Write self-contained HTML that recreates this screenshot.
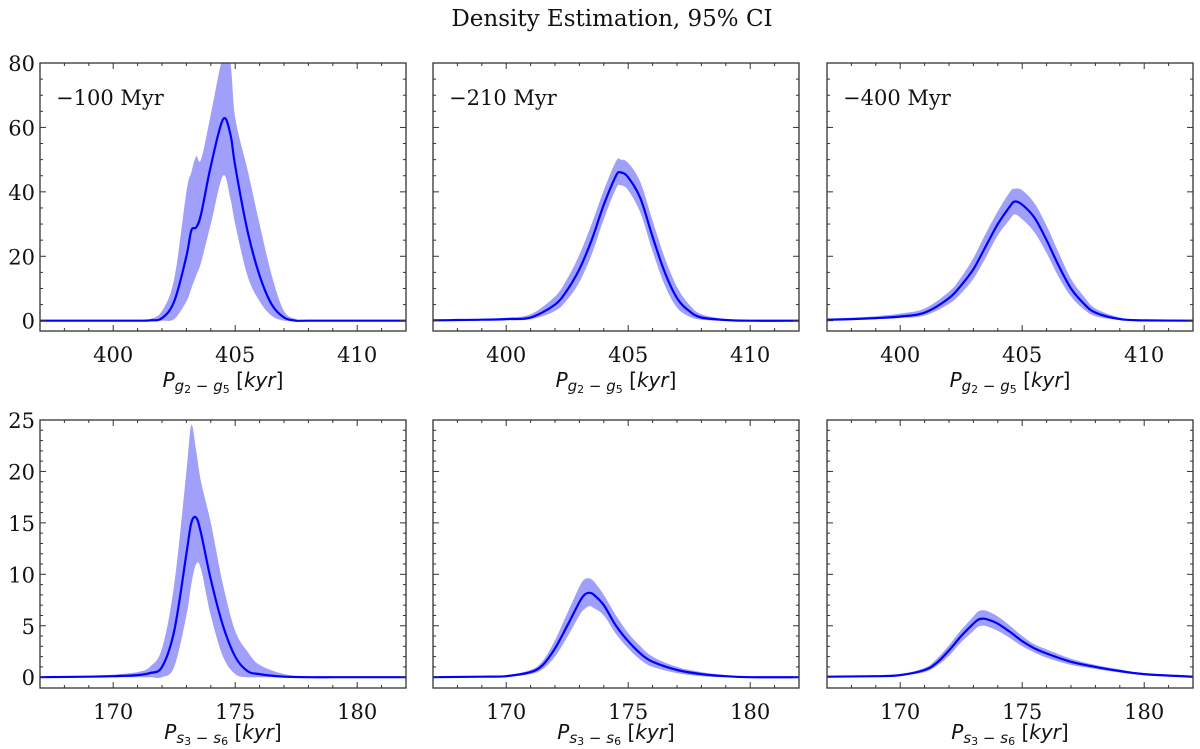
<!DOCTYPE html>
<html><head><meta charset="utf-8"><style>
html,body{margin:0;padding:0;background:#fff;}
svg{display:block;}
.tk{font-family:"DejaVu Serif","Liberation Serif",serif;font-size:21px;fill:#111;}
.xl{font-family:"DejaVu Sans","Liberation Sans",sans-serif;font-size:20px;fill:#111;}
</style></head><body>
<svg id="fig" width="1200" height="749" viewBox="0 0 1200 749" xmlns="http://www.w3.org/2000/svg">
<text x="612" y="26" text-anchor="middle" class="tk" style="font-size:23px">Density Estimation, 95% CI</text>
</svg>
<script>
// ---- data ----
const gridTop = [397,400,401,401.5,402,402.5,403,403.2,403.4,403.6,404,404.5,404.8,405,405.5,406,406.5,407,407.5,408,412];
const p1Mean = [0,0,0,0.1,0.8,6,20,28,29,33,48,62.5,58,48,28,14,5,1,0,0,0];
const p1High = [0,0,0.1,0.5,3,13,40,46,51,50,64,82,80,63,47,30,14,3,0.5,0,0];
const p1Low  = [0,0,0,0,0,0.5,6,10,14,18,30,45,38,30,14,6,1.5,0,0,0,0];

const gridTop2 = [397,398,399,400,401,402,402.5,403,403.5,404,404.5,404.7,405,405.5,406,406.5,407,407.5,408,409,410,412];
const p2Mean = [0.1,0.2,0.3,0.5,1,5,9.5,16,25,36,45,46,44.5,38,26,15,7,3,1,0.2,0,0];
const p2High = [0.2,0.3,0.5,0.9,2,7.5,13,20.5,30,40.5,49.5,50,49,43,31,19.5,10.5,5,2,0.5,0.1,0];
const p2Low  = [0,0.1,0.1,0.2,0.4,3,6.5,12,20.5,31.5,41,42,40.5,33.5,21.5,11,4,1.3,0.3,0,0,0];
const p3Mean = [0.3,0.5,0.8,1.3,2.5,7,11,16,23,30,35.5,37,36,32,25,17,10,5.5,2.5,0.5,0.1,0];
const p3High = [0.6,0.9,1.4,2.2,3.8,9,13.5,19.5,27,34,40,41,40.5,36.5,29.5,21,13,7.8,3.8,1,0.2,0];
const p3Low  = [0.1,0.3,0.5,0.8,1.6,5.2,8.5,13,19.5,26.5,31.5,33,31.5,27.5,21,13.5,7.5,3.7,1.4,0.2,0,0];

const gridBot = [167,169,170,171,171.5,172,172.5,173,173.2,173.4,173.6,174,174.5,175,175.5,176,177,178,179,180,182];
const p4Mean = [0,0.05,0.1,0.2,0.4,1,4.5,12,15,15.5,14,9.5,5,2,0.6,0.3,0.05,0,0,0,0];
const p4High = [0.1,0.15,0.25,0.5,1,2.8,9,20,24.5,22,19,15,9,4.5,2.5,1.2,0.3,0.1,0,0,0];
const p4Low  = [0,0,0,0,0,0,1,6,9,11,10.5,6,2,0.3,0,0,0,0,0,0,0];
const p5Mean = [0,0.05,0.1,0.5,1.2,2.8,5,7.3,8,8.2,8,7,5,3.5,2.3,1.5,0.7,0.3,0.1,0,0];
const p5High = [0.05,0.1,0.2,0.7,1.6,3.6,6.2,8.8,9.5,9.6,9.3,8,6,4.3,3,2,1,0.5,0.2,0.05,0];
const p5Low  = [0,0,0.05,0.3,0.8,2,3.9,6,6.6,6.9,6.7,6,4.2,2.8,1.7,1,0.4,0.1,0,0,0];
const p6Mean = [0.05,0.1,0.2,0.7,1.4,2.6,4,5.2,5.6,5.7,5.6,5.2,4.4,3.5,2.8,2.3,1.5,1,0.6,0.3,0.05];
const p6High = [0.1,0.15,0.3,0.9,1.8,3.1,4.6,5.9,6.4,6.5,6.4,5.9,5,4,3.2,2.7,1.8,1.2,0.75,0.4,0.1];
const p6Low  = [0,0.05,0.15,0.5,1.1,2.1,3.4,4.5,4.9,5,4.9,4.5,3.8,3,2.4,1.9,1.2,0.8,0.45,0.2,0];

const topXTicks = [400,405,410];
const topYTicks = [0,20,40,60,80];
const botXTicks = [170,175,180];
const botYTicks = [0,5,10,15,20,25];
const labels = ["\u2212100 Myr","\u2212210 Myr","\u2212400 Myr"];

const NS="http://www.w3.org/2000/svg";
const svg=document.getElementById('fig');
function mk(tag,attrs,parent){const e=document.createElementNS(NS,tag);for(const k in attrs)e.setAttribute(k,attrs[k]);(parent||svg).appendChild(e);return e;}

const panels=[
 {x0:40,y0:63,x:[397,412],y:[-3.2,80],grid:gridTop,m:p1Mean,h:p1High,l:p1Low,xt:topXTicks,yt:topYTicks,ym:5,yl:true,lab:labels[0],sub:"g",lo:56},
 {x0:433,y0:63,x:[397,412],y:[-3.2,80],grid:gridTop2,m:p2Mean,h:p2High,l:p2Low,xt:topXTicks,yt:topYTicks,ym:5,yl:false,lab:labels[1],sub:"g",lo:56},
 {x0:827,y0:63,x:[397,412],y:[-3.2,80],grid:gridTop2,m:p3Mean,h:p3High,l:p3Low,xt:topXTicks,yt:topYTicks,ym:5,yl:false,lab:labels[2],sub:"g",lo:56},
 {x0:40,y0:420,x:[167,182],y:[-1.05,25],grid:gridBot,m:p4Mean,h:p4High,l:p4Low,xt:botXTicks,yt:botYTicks,ym:1,yl:true,sub:"s",lo:51},
 {x0:433,y0:420,x:[167,182],y:[-1.05,25],grid:gridBot,m:p5Mean,h:p5High,l:p5Low,xt:botXTicks,yt:botYTicks,ym:1,yl:false,sub:"s",lo:51},
 {x0:827,y0:420,x:[167,182],y:[-1.05,25],grid:gridBot,m:p6Mean,h:p6High,l:p6Low,xt:botXTicks,yt:botYTicks,ym:1,yl:false,sub:"s",lo:51}
];
const W=366,H=268;

function smooth(pts){
  let d="M"+pts[0][0].toFixed(1)+","+pts[0][1].toFixed(1);
  for(let i=0;i<pts.length-1;i++){
    const p0=pts[Math.max(0,i-1)],p1=pts[i],p2=pts[i+1],p3=pts[Math.min(pts.length-1,i+2)];
    const c1=[p1[0]+(p2[0]-p0[0])/6,p1[1]+(p2[1]-p0[1])/6];
    const c2=[p2[0]-(p3[0]-p1[0])/6,p2[1]-(p3[1]-p1[1])/6];
    d+=" C"+c1[0].toFixed(1)+","+c1[1].toFixed(1)+" "+c2[0].toFixed(1)+","+c2[1].toFixed(1)+" "+p2[0].toFixed(1)+","+p2[1].toFixed(1);
  }
  return d;
}

panels.forEach((p,i)=>{
  const sx=v=>p.x0+(v-p.x[0])/(p.x[1]-p.x[0])*W;
  const sy=v=>p.y0+H-(v-p.y[0])/(p.y[1]-p.y[0])*H;
  const g=mk('g',{});
  
  
  const cp=mk('clipPath',{id:'cp'+i},g);
  mk('rect',{x:p.x0,y:p.y0,width:W,height:H},cp);
  const hi=p.grid.map((x,k)=>[sx(x),sy(p.h[k])]);
  const lo=p.grid.map((x,k)=>[sx(x),sy(p.l[k])]).reverse();
  const sl=smooth(lo);
  const band=smooth(hi)+" L"+lo[0][0].toFixed(1)+","+lo[0][1].toFixed(1)+sl.slice(sl.indexOf(" C"))+" Z";
  const b=mk('path',{d:band,fill:'#a0a0fa','clip-path':'url(#cp'+i+')'},g);
  
  
  const mp=p.grid.map((x,k)=>[sx(x),sy(p.m[k])]);
  const ln=mk('path',{d:smooth(mp),fill:'none',stroke:'#0000ff','stroke-width':2.2,'clip-path':'url(#cp'+i+')'},g);
  
  
  const fr=mk('rect',{x:p.x0,y:p.y0,width:W,height:H,fill:'none',stroke:'#333','stroke-width':1.3},g);
  
  
  for(let v=Math.ceil(p.x[0]);v<=p.x[1];v++){
    const major=p.xt.includes(v);const L=major?6:3;const X=sx(v);
    mk('line',{x1:X,y1:p.y0+H,x2:X,y2:p.y0+H-L,stroke:'#333','stroke-width':1},g);
    mk('line',{x1:X,y1:p.y0,x2:X,y2:p.y0+L,stroke:'#333','stroke-width':1},g);
  }
  p.xt.forEach(v=>{
    const t=mk('text',{x:sx(v),y:p.y0+H+31,'text-anchor':'middle',class:'tk'},g);
    t.textContent=v;
    
    
  });
  for(let v=0;v<=p.y[1]+1e-9;v+=p.ym){
    const major=p.yt.includes(v);const L=major?6:3;const Y=sy(v);
    mk('line',{x1:p.x0,y1:Y,x2:p.x0+L,y2:Y,stroke:'#333','stroke-width':1},g);
    mk('line',{x1:p.x0+W,y1:Y,x2:p.x0+W-L,y2:Y,stroke:'#333','stroke-width':1},g);
  }
  if(p.yl) p.yt.forEach(v=>{
    const t=mk('text',{x:p.x0-5,y:sy(v)+8,'text-anchor':'end',class:'tk'},g);
    t.textContent=v;
    
    
  });
  const xl=mk('text',{x:p.x0+W/2,y:p.y0+H+p.lo,'text-anchor':'middle',class:'xl'},g);
  
  
  const a=p.sub==='g'?['g','2','g','5']:['s','3','s','6'];
  xl.innerHTML='<tspan font-style="italic">P</tspan><tspan font-style="italic" font-size="15" dy="4">'+a[0]+'</tspan><tspan font-size="11" dy="2">'+a[1]+'</tspan><tspan font-size="15" dy="-2"> \u2212 </tspan><tspan font-style="italic" font-size="15">'+a[2]+'</tspan><tspan font-size="11" dy="2">'+a[3]+'</tspan><tspan dy="-6"> [</tspan><tspan font-style="italic">kyr</tspan><tspan>]</tspan>';
  if(p.lab){
    const t=mk('text',{x:p.x0+16,y:p.y0+42,class:'tk',style:'font-size:21px'},g);
    t.textContent=p.lab;
    
    
  }
});
</script>
</body></html>
